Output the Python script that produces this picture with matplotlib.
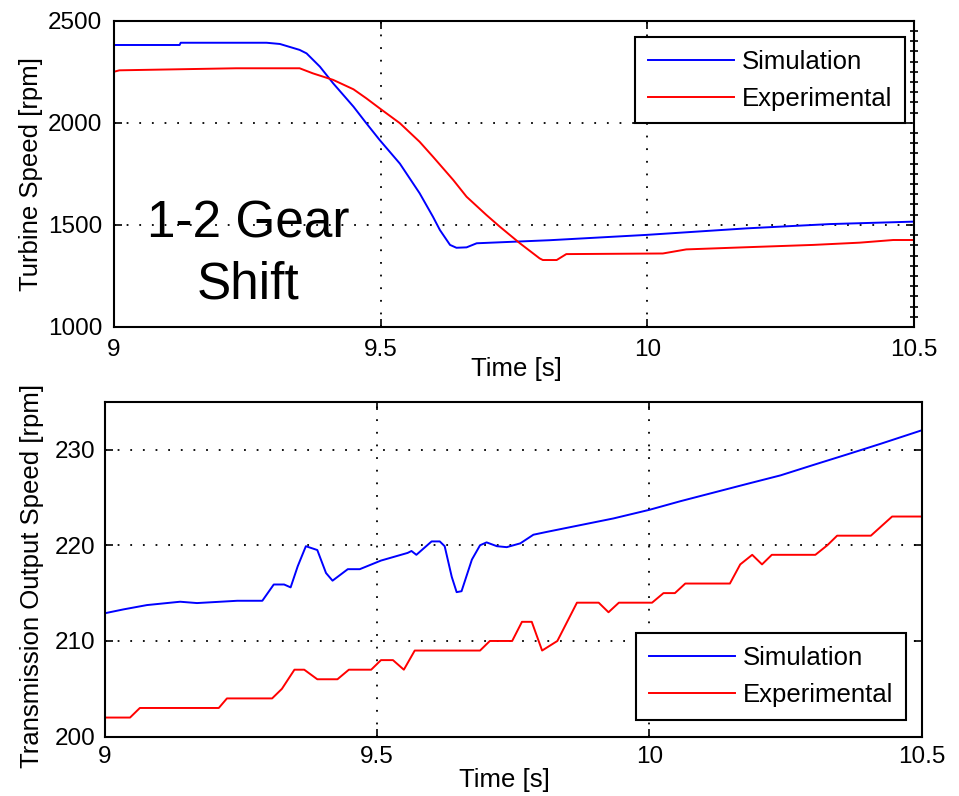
import matplotlib
matplotlib.use("Agg")
import matplotlib.pyplot as plt
from matplotlib.ticker import MultipleLocator

plt.rcParams['font.family'] = ['Liberation Sans', 'DejaVu Sans']

# turbine speed during the 1-2 upshift [rpm]
t_turb_sim = [9.000, 9.123, 9.125, 9.286, 9.311, 9.348, 9.361, 9.386, 9.411, 9.449,
              9.473, 9.498, 9.536, 9.573, 9.598, 9.611, 9.630, 9.642, 9.661, 9.680,
              9.817, 9.998, 10.186, 10.342, 10.500]
turb_sim = [2381, 2381, 2392, 2392, 2386, 2357, 2340, 2275, 2193, 2079,
            1998, 1916, 1800, 1655, 1540, 1475, 1402, 1388, 1390, 1410,
            1425, 1451, 1483, 1504, 1516]

t_turb_exp = [9.000, 9.010, 9.229, 9.348, 9.373, 9.411, 9.449, 9.473, 9.498, 9.536,
              9.573, 9.598, 9.636, 9.661, 9.698, 9.723, 9.761, 9.798, 9.804, 9.830,
              9.848, 10.029, 10.073, 10.179, 10.311, 10.398, 10.461, 10.500]
turb_exp = [2250, 2257, 2267, 2267, 2242, 2210, 2164, 2120, 2071, 1998,
            1907, 1834, 1720, 1638, 1549, 1492, 1410, 1336, 1328, 1328,
            1357, 1360, 1380, 1390, 1402, 1413, 1426, 1426]

# transmission output speed [rpm]
t_out_sim = [9.000, 9.034, 9.077, 9.138, 9.169, 9.243, 9.289, 9.310, 9.329, 9.341,
             9.354, 9.369, 9.390, 9.406, 9.418, 9.446, 9.468, 9.507, 9.556, 9.563,
             9.572, 9.600, 9.615, 9.624, 9.637, 9.646, 9.655, 9.674, 9.689, 9.701,
             9.720, 9.738, 9.763, 9.787, 9.812, 9.873, 9.934, 10.000, 10.057, 10.118,
             10.179, 10.241, 10.302, 10.364, 10.425, 10.500]
out_sim = [212.9, 213.3, 213.75, 214.1, 213.96, 214.2, 214.2, 215.9, 215.9, 215.6,
           217.8, 219.9, 219.5, 217.1, 216.3, 217.5, 217.5, 218.4, 219.2, 219.4,
           219.0, 220.4, 220.4, 219.9, 216.7, 215.1, 215.2, 218.5, 220.0, 220.3,
           219.9, 219.8, 220.2, 221.1, 221.4, 222.1, 222.8, 223.7, 224.6, 225.5,
           226.4, 227.3, 228.4, 229.5, 230.6, 232.0]

t_out_exp = [9.000, 9.046, 9.064, 9.209, 9.224, 9.307, 9.325, 9.348, 9.366, 9.390,
             9.427, 9.448, 9.489, 9.507, 9.529, 9.549, 9.569, 9.689, 9.707, 9.748,
             9.766, 9.784, 9.803, 9.831, 9.867, 9.907, 9.925, 9.944, 10.005, 10.026,
             10.047, 10.066, 10.148, 10.167, 10.189, 10.207, 10.225, 10.305, 10.327, 10.345,
             10.407, 10.446, 10.500]
out_exp = [202, 202, 203, 203, 204, 204, 205, 207, 207, 206,
           206, 207, 207, 208, 208, 207, 209, 209, 210, 210,
           212, 212, 209, 210, 214, 214, 213, 214, 214, 215,
           215, 216, 216, 218, 219, 218, 219, 219, 220, 221,
           221, 223, 223]

legend_labels = ['Simulation', 'Experimental']


def style_axes(ax, label_pad):
    ax.grid(True, color='k', linestyle=(0, (1, 6)), linewidth=1.3)
    ax.tick_params(which='major', direction='in', length=6, width=1.2,
                   top=True, right=True, labelsize=17.5, pad=label_pad)
    for sp in ax.spines.values():
        sp.set_linewidth(1.5)
        sp.set_color('k')


def add_legend(ax, loc, anchor):
    leg = ax.legend(legend_labels, loc=loc, bbox_to_anchor=anchor,
                    borderaxespad=0, fontsize=18.5, handlelength=3.35,
                    handletextpad=0.3, borderpad=0.5, labelspacing=0.5,
                    fancybox=False, framealpha=1)
    leg.get_frame().set_edgecolor('k')
    leg.get_frame().set_linewidth(1.5)
    return leg


fig = plt.figure(figsize=(9.59, 7.96), dpi=100)

# top: turbine speed
ax1 = fig.add_axes([0.1189, 0.5892, 0.8342, 0.3848])
ax1.plot(t_turb_sim, turb_sim, color='#0000ff', lw=1.4)
ax1.plot(t_turb_exp, turb_exp, color='#ff0000', lw=1.4)
ax1.set_xlim(9, 10.5)
ax1.set_ylim(1000, 2500)
ax1.set_xticks([9, 9.5, 10, 10.5])
ax1.set_xticklabels(['9', '9.5', '10', '10.5'])
ax1.set_yticks([1000, 1500, 2000, 2500])
style_axes(ax1, 8.5)
ax1.yaxis.set_minor_locator(MultipleLocator(50))
ax1.tick_params(which='minor', left=False, right=True, direction='inout',
                length=6, width=1.2)
ax1.set_ylabel('Turbine Speed [rpm]', fontsize=18.5)
ax1.yaxis.set_label_coords(-0.089, 0.5)
ax1.set_xlabel('Time [s]', fontsize=18.5)
ax1.xaxis.set_label_coords(0.503, -0.098)
ax1.text(9.252, 1355, '1-2 Gear\nShift', fontsize=37, ha='center', va='center',
         linespacing=1.3)
add_legend(ax1, 'upper right', (0.989, 0.947))

# bottom: transmission output speed
ax2 = fig.add_axes([0.1095, 0.0745, 0.8514, 0.4209])
ax2.plot(t_out_sim, out_sim, color='#0000ff', lw=1.4)
ax2.plot(t_out_exp, out_exp, color='#ff0000', lw=1.4)
ax2.set_xlim(9, 10.5)
ax2.set_ylim(200, 235)
ax2.set_xticks([9, 9.5, 10, 10.5])
ax2.set_xticklabels(['9', '9.5', '10', '10.5'])
ax2.set_yticks([200, 210, 220, 230])
style_axes(ax2, 7)
ax2.set_ylabel('Transmission Output Speed [rpm]', fontsize=18.5)
ax2.yaxis.set_label_coords(-0.075, 0.48)
ax2.set_xlabel('Time [s]', fontsize=18.5)
ax2.xaxis.set_label_coords(0.489, -0.093)
add_legend(ax2, 'lower right', (0.981, 0.05))

fig.savefig('out.png', dpi=100)
